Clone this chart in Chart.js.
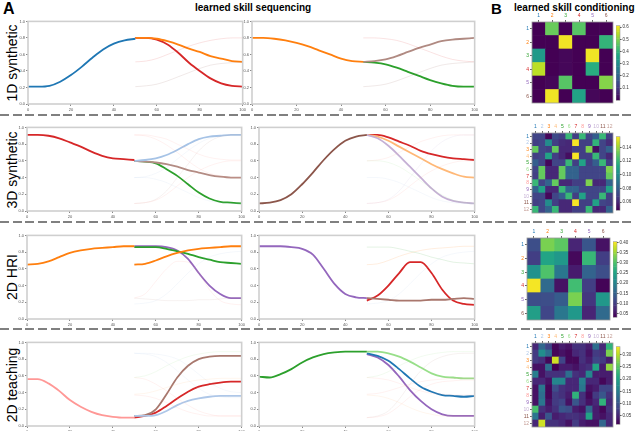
<!DOCTYPE html>
<html><head><meta charset="utf-8">
<script src="https://cdn.jsdelivr.net/npm/chart.js@4.4.0/dist/chart.umd.min.js"></script>
<style>
body{margin:0;width:640px;height:431px;background:#fff;position:relative;overflow:hidden;font-family:"Liberation Sans",Arial,sans-serif;}
canvas{position:absolute;}
.t{position:absolute;white-space:nowrap;color:#000;}
.rot{position:absolute;white-space:nowrap;transform:translate(-50%,-50%) rotate(-90deg);font-size:14px;}
.dash{position:absolute;left:0;width:634px;height:2px;background:repeating-linear-gradient(to right,#808080 0 9px,transparent 9px 12.7px);}
</style></head><body>
<div class="t" style="left:3px;top:0px;font-size:16px;font-weight:bold;">A</div>
<div class="t" style="left:195px;top:2px;font-size:10px;font-weight:bold;">learned skill sequencing</div>
<div class="t" style="left:491px;top:0px;font-size:15px;font-weight:bold;">B</div>
<div class="t" style="left:514px;top:2px;font-size:10px;font-weight:bold;">learned skill conditioning</div>
<div class="rot" style="left:12px;top:63px;">1D synthetic</div>
<div class="rot" style="left:12px;top:170px;">3D synthetic</div>
<div class="rot" style="left:12px;top:277px;">2D HRI</div>
<div class="rot" style="left:12px;top:385px;">2D teaching</div>
<div class="dash" style="top:114px"></div>
<div class="dash" style="top:221px"></div>
<div class="dash" style="top:328px"></div>
<script>
// ---------------- DATA ----------------
const X_A = [0,5,10,15,20,25,30,35,40,45,50];
const X_B = [50,55,60,65,70,75,80,85,90,95,100];
const X_TICKS = [0,20,40,60,80,100];
const Y_TICKS = [0,0.2,0.4,0.6,0.8,1.0];

// Row 1 : 1D synthetic
const r1L_blue   = [0.21,0.21,0.22,0.27,0.35,0.45,0.56,0.66,0.73,0.77,0.79];
const r1L_red    = [0.80,0.80,0.78,0.72,0.62,0.50,0.40,0.31,0.25,0.22,0.21];
const r1L_orange = [0.80,0.80,0.79,0.76,0.72,0.67,0.63,0.58,0.55,0.52,0.51];
const r1L_f1     = [0.51,0.52,0.55,0.60,0.65,0.70,0.74,0.77,0.79,0.80,0.80];
const r1L_f2     = [0.21,0.22,0.24,0.28,0.33,0.38,0.43,0.47,0.49,0.50,0.51];
const r1R_orange = [0.80,0.80,0.79,0.77,0.74,0.70,0.65,0.60,0.55,0.52,0.51];
const r1R_brown  = [0.51,0.52,0.54,0.58,0.63,0.68,0.72,0.76,0.78,0.79,0.80];
const r1R_green  = [0.51,0.50,0.48,0.44,0.39,0.34,0.29,0.25,0.22,0.21,0.21];
const r1R_f1     = [0.80,0.80,0.79,0.77,0.73,0.68,0.63,0.58,0.54,0.52,0.51];
const r1R_f2     = [0.21,0.22,0.24,0.28,0.33,0.38,0.43,0.47,0.49,0.50,0.51];

// Row 2 : 3D synthetic
const r2L_red    = [0.91,0.91,0.90,0.87,0.82,0.77,0.71,0.66,0.63,0.62,0.61];
const r2L_blue   = [0.60,0.61,0.63,0.67,0.73,0.80,0.86,0.89,0.90,0.91,0.91];
const r2L_brown  = [0.60,0.59,0.58,0.56,0.53,0.49,0.46,0.43,0.41,0.40,0.40];
const r2L_green  = [0.60,0.59,0.57,0.50,0.42,0.32,0.22,0.15,0.11,0.10,0.09];
const r2L_f1     = [0.91,0.91,0.89,0.86,0.80,0.74,0.68,0.64,0.62,0.61,0.61];
const r2L_f2     = [0.91,0.90,0.86,0.79,0.70,0.60,0.51,0.45,0.42,0.40,0.40];
const r2L_f3     = [0.40,0.40,0.38,0.34,0.28,0.22,0.16,0.12,0.10,0.09,0.09];
const r2L_f4     = [0.40,0.41,0.45,0.52,0.62,0.72,0.81,0.87,0.90,0.91,0.91];
const r2L_f5     = [0.09,0.10,0.13,0.20,0.30,0.40,0.48,0.54,0.58,0.60,0.60];
const r2L_f6     = [0.09,0.10,0.14,0.24,0.40,0.56,0.72,0.83,0.89,0.91,0.91];
const r2R_brown  = [0.09,0.10,0.13,0.20,0.32,0.46,0.61,0.74,0.84,0.89,0.91];
const r2R_red    = [0.91,0.91,0.88,0.83,0.78,0.72,0.68,0.65,0.63,0.62,0.61];
const r2R_orange = [0.91,0.89,0.84,0.77,0.70,0.63,0.56,0.50,0.45,0.41,0.40];
const r2R_purple = [0.91,0.87,0.78,0.66,0.53,0.40,0.27,0.17,0.12,0.10,0.09];
const r2R_f1     = [0.60,0.60,0.58,0.53,0.45,0.36,0.27,0.19,0.13,0.10,0.09];
const r2R_f2     = [0.40,0.40,0.38,0.34,0.28,0.22,0.16,0.12,0.10,0.09,0.09];
const r2R_f3     = [0.09,0.10,0.14,0.24,0.40,0.56,0.72,0.83,0.89,0.91,0.91];
const r2R_f4     = [0.60,0.61,0.64,0.70,0.77,0.83,0.87,0.90,0.91,0.91,0.91];
const r2R_f5     = [0.09,0.10,0.13,0.20,0.30,0.40,0.48,0.54,0.58,0.60,0.60];

// Row 3 : 2D HRI
const r3L_orange = [0.65,0.66,0.69,0.74,0.79,0.82,0.84,0.85,0.86,0.87,0.87];
const r3L_orange2= [0.65,0.66,0.70,0.75,0.79,0.82,0.84,0.85,0.86,0.87,0.87];
const r3L_green  = [0.86,0.86,0.86,0.84,0.81,0.78,0.74,0.71,0.68,0.67,0.66];
const r3L_purple = [0.87,0.87,0.87,0.86,0.82,0.72,0.55,0.40,0.30,0.25,0.25];
const r3L_f1     = [0.25,0.30,0.45,0.60,0.69,0.68,0.55,0.35,0.22,0.18,0.17];
const r3L_f2     = [0.18,0.19,0.22,0.30,0.42,0.55,0.66,0.74,0.78,0.80,0.81];
const r3L_f3     = [0.25,0.24,0.23,0.22,0.22,0.22,0.23,0.23,0.24,0.25,0.25];
const r3R_purple = [0.87,0.87,0.87,0.86,0.84,0.77,0.60,0.42,0.30,0.26,0.25];
const r3R_red    = [0.22,0.28,0.40,0.55,0.68,0.68,0.55,0.35,0.22,0.18,0.17];
const r3R_brown  = [0.25,0.24,0.23,0.22,0.22,0.22,0.23,0.23,0.24,0.25,0.24];
const r3R_f1     = [0.86,0.86,0.86,0.84,0.81,0.78,0.74,0.71,0.68,0.67,0.66];
const r3R_f2     = [0.65,0.66,0.70,0.75,0.79,0.82,0.84,0.85,0.86,0.87,0.87];
const r3R_f3     = [0.18,0.19,0.22,0.30,0.42,0.55,0.66,0.74,0.78,0.80,0.81];

// Row 4 : 2D teaching
const r4L_pink   = [0.56,0.56,0.51,0.42,0.31,0.23,0.17,0.13,0.11,0.10,0.10];
const r4L_brown  = [0.12,0.13,0.20,0.38,0.58,0.72,0.80,0.83,0.84,0.84,0.84];
const r4L_red    = [0.10,0.12,0.16,0.24,0.33,0.41,0.47,0.50,0.52,0.53,0.53];
const r4L_blue   = [0.12,0.12,0.13,0.18,0.25,0.30,0.33,0.35,0.36,0.36,0.36];
const r4L_f1     = [0.87,0.86,0.83,0.76,0.66,0.55,0.45,0.38,0.35,0.34,0.34];
const r4L_f2     = [0.58,0.60,0.65,0.72,0.78,0.83,0.86,0.88,0.89,0.89,0.89];
const r4L_f3     = [0.38,0.39,0.42,0.46,0.50,0.53,0.55,0.56,0.57,0.57,0.57];
const r4L_f4     = [0.37,0.36,0.33,0.28,0.22,0.17,0.14,0.12,0.12,0.12,0.12];
const r4L_f5     = [0.58,0.56,0.50,0.42,0.33,0.25,0.18,0.14,0.12,0.12,0.12];
const r4L_f6     = [0.87,0.87,0.86,0.84,0.80,0.72,0.62,0.52,0.45,0.41,0.40];
const r4R_green  = [0.59,0.58,0.62,0.68,0.76,0.82,0.86,0.88,0.89,0.89,0.89];
const r4R_lgreen = [0.89,0.89,0.87,0.83,0.77,0.70,0.63,0.59,0.58,0.57,0.57];
const r4R_blue   = [0.87,0.84,0.78,0.68,0.57,0.47,0.41,0.37,0.36,0.35,0.36];
const r4R_purple = [0.86,0.82,0.73,0.59,0.43,0.30,0.20,0.14,0.12,0.12,0.12];
const r4R_f1     = [0.58,0.60,0.65,0.72,0.78,0.83,0.86,0.88,0.89,0.89,0.89];
const r4R_f2     = [0.38,0.39,0.42,0.46,0.50,0.53,0.55,0.56,0.57,0.57,0.57];
const r4R_f3     = [0.10,0.11,0.15,0.24,0.35,0.44,0.50,0.53,0.54,0.55,0.55];
const r4R_f4     = [0.58,0.57,0.55,0.51,0.46,0.42,0.39,0.38,0.37,0.37,0.37];
const r4R_f5     = [0.37,0.36,0.33,0.28,0.22,0.17,0.14,0.12,0.12,0.12,0.12];
const r4R_f6     = [0.10,0.12,0.18,0.32,0.50,0.66,0.77,0.83,0.86,0.87,0.87];

// Heatmaps (rows top->bottom, columns left->right)
const LABELS6  = ['1','2','3','4','5','6'];
const LABELS12 = ['1','2','3','4','5','6','7','8','9','10','11','12'];
const H1 = [
 [0.00,0.47,0.00,0.45,0.00,0.00],
 [0.00,0.00,0.60,0.00,0.00,0.40],
 [0.33,0.00,0.01,0.00,0.60,0.00],
 [0.55,0.00,0.01,0.00,0.38,0.00],
 [0.00,0.01,0.45,0.00,0.00,0.50],
 [0.00,0.60,0.00,0.35,0.01,0.00]];
const H1_TICKS = [0.1,0.2,0.3,0.4,0.5,0.6];
const H1_RANGE = [0.0,0.612];
const H2 = [
 [0.070,0.070,0.050,0.072,0.068,0.120,0.068,0.120,0.070,0.080,0.120,0.068],
 [0.068,0.070,0.100,0.068,0.062,0.060,0.155,0.068,0.068,0.118,0.070,0.062],
 [0.130,0.070,0.068,0.130,0.060,0.060,0.068,0.068,0.135,0.052,0.070,0.082],
 [0.068,0.070,0.110,0.068,0.060,0.052,0.155,0.068,0.068,0.120,0.070,0.060],
 [0.080,0.070,0.050,0.070,0.070,0.120,0.068,0.110,0.068,0.080,0.120,0.068],
 [0.070,0.130,0.060,0.060,0.130,0.082,0.082,0.070,0.070,0.070,0.070,0.135],
 [0.068,0.130,0.060,0.060,0.130,0.082,0.082,0.070,0.070,0.070,0.070,0.130],
 [0.120,0.070,0.082,0.130,0.060,0.060,0.068,0.068,0.135,0.060,0.060,0.082],
 [0.082,0.110,0.060,0.060,0.120,0.082,0.082,0.070,0.070,0.070,0.070,0.110],
 [0.070,0.070,0.050,0.070,0.080,0.120,0.068,0.110,0.070,0.070,0.120,0.068],
 [0.068,0.070,0.100,0.068,0.060,0.060,0.155,0.068,0.068,0.110,0.070,0.068],
 [0.120,0.070,0.082,0.120,0.060,0.060,0.068,0.068,0.120,0.060,0.060,0.082]];
const H2_TICKS = [0.06,0.08,0.10,0.12,0.14];
const H2_RANGE = [0.048,0.156];
const H3 = [
 [0.12,0.33,0.31,0.07,0.13,0.05],
 [0.10,0.25,0.23,0.04,0.28,0.10],
 [0.22,0.30,0.18,0.06,0.15,0.12],
 [0.40,0.16,0.05,0.29,0.10,0.035],
 [0.12,0.12,0.14,0.33,0.09,0.23],
 [0.24,0.11,0.18,0.23,0.07,0.16]];
const H3_TICKS = [0.05,0.10,0.15,0.20,0.25,0.30,0.35,0.40];
const H3_RANGE = [0.032,0.405];
const H4 = [
 [0.05,0.12,0.08,0.02,0.04,0.03,0.06,0.06,0.04,0.13,0.05,0.22],
 [0.07,0.17,0.13,0.02,0.03,0.02,0.05,0.06,0.03,0.07,0.06,0.27],
 [0.07,0.06,0.02,0.31,0.08,0.02,0.02,0.06,0.04,0.08,0.07,0.04],
 [0.03,0.03,0.13,0.01,0.04,0.04,0.03,0.05,0.06,0.20,0.04,0.28],
 [0.15,0.03,0.06,0.06,0.06,0.13,0.06,0.05,0.16,0.04,0.04,0.04],
 [0.05,0.05,0.03,0.16,0.16,0.05,0.05,0.15,0.05,0.05,0.02,0.04],
 [0.03,0.14,0.02,0.09,0.06,0.05,0.05,0.14,0.03,0.04,0.08,0.08],
 [0.03,0.13,0.02,0.07,0.06,0.04,0.22,0.06,0.02,0.07,0.10,0.06],
 [0.03,0.14,0.03,0.07,0.08,0.03,0.10,0.06,0.03,0.05,0.22,0.05],
 [0.24,0.06,0.04,0.06,0.10,0.09,0.04,0.03,0.12,0.04,0.02,0.06],
 [0.14,0.04,0.10,0.04,0.05,0.06,0.06,0.05,0.20,0.04,0.03,0.05],
 [0.05,0.31,0.06,0.06,0.05,0.03,0.07,0.04,0.03,0.03,0.12,0.05]];
const H4_TICKS = [0.05,0.10,0.15,0.20,0.25,0.30];
const H4_RANGE = [0.015,0.333];

// ---------------- STYLE ----------------
const TAB10 = ['#1f77b4','#ff7f0e','#2ca02c','#d62728','#9467bd','#8c564b'];
const TAB20 = ['#1f77b4','#aec7e8','#ff7f0e','#ffbb78','#2ca02c','#98df8a','#d62728','#ff9896','#9467bd','#c5b0d5','#8c564b','#c49c94'];
const VIR = ['#440154','#482475','#414487','#355f8d','#2a788e','#21918c','#22a884','#44bf70','#7ad151','#bddf26','#fde725'];
function hex(h){return [parseInt(h.slice(1,3),16),parseInt(h.slice(3,5),16),parseInt(h.slice(5,7),16)];}
function viridis(t){t=Math.max(0,Math.min(1,t));const f=t*10,i=Math.min(9,Math.floor(f)),u=f-i;const a=hex(VIR[i]),b=hex(VIR[i+1]);return 'rgb('+a.map((v,k)=>Math.round(v+(b[k]-v)*u)).join(',')+')';}
function fa(h,a){const c=hex(h);return 'rgba('+c.join(',')+','+a+')';}

Chart.defaults.font.family = '"Liberation Sans", Arial, sans-serif';
Chart.defaults.animation = false;

const framePlugin = {id:'frame', afterDraw(c,args,o){if(!o.color)return;const a=c.chartArea,x=c.ctx;x.save();x.strokeStyle=o.color;x.lineWidth=o.width||1;x.strokeRect(a.left,a.top,a.right-a.left,a.bottom-a.top);x.restore();}};
Chart.register(framePlugin);

function place(rect,pl,pt,pr,pb){
  const cv=document.createElement('canvas');
  const W=rect.r-rect.l+pl+pr, H=rect.b-rect.t+pt+pb;
  cv.width=W;cv.height=H;cv.style.left=(rect.l-pl)+'px';cv.style.top=(rect.t-pt)+'px';
  cv.style.width=W+'px';cv.style.height=H+'px';
  document.body.appendChild(cv);return cv;
}
function line(xs,ys,color,w){return {data:xs.map((x,i)=>({x:x,y:ys[i]})),borderColor:color,borderWidth:w,pointRadius:0,fill:false,tension:0.4,cubicInterpolationMode:'monotone'};}
function lineChart(rect,mains,faints){
  const cv=place(rect,12,3,3,10);
  const datasets=[];
  faints.forEach(f=>datasets.push(line(X_B,f[0],fa(f[1],0.13),1)));
  mains.forEach(m=>datasets.push(line(m[0],m[1],m[2],1.8)));
  new Chart(cv,{type:'line',data:{datasets},options:{
    responsive:false,devicePixelRatio:1,
    layout:{padding:{left:0,top:3,right:3,bottom:0}},
    plugins:{legend:{display:false},tooltip:{enabled:false},frame:{color:'#cfcfcf',width:1.6}},
    scales:{
      x:{type:'linear',min:0,max:100,afterFit:s=>{s.height=10;},afterBuildTicks:s=>{s.ticks=X_TICKS.map(v=>({value:v}));},
         ticks:{font:{size:4},color:'#555',padding:1,maxRotation:0,autoSkip:false},
         grid:{display:true,drawOnChartArea:false,tickLength:2,color:'#888'},border:{display:false}},
      y:{type:'linear',min:0,max:1,afterFit:s=>{s.width=12;},afterBuildTicks:s=>{s.ticks=Y_TICKS.map(v=>({value:v}));},
         ticks:{font:{size:4},color:'#555',padding:1,callback:v=>v.toFixed(1),autoSkip:false},
         grid:{display:true,drawOnChartArea:false,tickLength:2,color:'#888'},border:{display:false}}
    }}});
}
function heatmap(rect,M,labels,colors,range,cbRect,cbTicks){
  const n=M.length, cv=place(rect,8,9,1,3);
  const datasets=[];
  for(let r=n-1;r>=0;r--){
    datasets.push({data:M[r].map(()=>1),backgroundColor:M[r].map(v=>viridis((v-range[0])/(range[1]-range[0]))),
      borderWidth:0,barPercentage:1,categoryPercentage:1});
  }
  new Chart(cv,{type:'bar',data:{labels:labels,datasets},options:{
    responsive:false,devicePixelRatio:1,
    layout:{padding:{left:0,top:0,right:1,bottom:3}},
    plugins:{legend:{display:false},tooltip:{enabled:false},frame:{color:'#9a9a9a',width:0.8}},
    scales:{
      x:{stacked:true,position:'top',afterFit:s=>{s.height=9;},
         ticks:{font:{size:5},color:c=>colors[c.index],padding:1,maxRotation:0,autoSkip:false},
         grid:{display:true,drawOnChartArea:false,tickLength:2,color:'#666',offset:false},border:{display:false}},
      y:{stacked:true,min:0,max:n,afterFit:s=>{s.width=8;},
         afterBuildTicks:s=>{const t=[];for(let i=0;i<n;i++)t.push({value:i+0.5});s.ticks=t;},
         ticks:{font:{size:5},padding:1,autoSkip:false,callback:v=>labels[n-1-Math.round(v-0.5)],color:c=>colors[n-1-Math.round(c.tick.value-0.5)]},
         grid:{display:true,drawOnChartArea:false,tickLength:2,color:'#666'},border:{display:false}}
    }}});
  // colorbar
  const cc=place(cbRect,0,0,16,0);
  const N=64,cd=[];
  for(let i=0;i<N;i++){const lo=range[0]+(range[1]-range[0])*i/N,hi=range[0]+(range[1]-range[0])*(i+1)/N;
    cd.push({data:[[lo,hi]],backgroundColor:viridis((i+0.5)/N),borderWidth:0,grouped:false,barPercentage:1,categoryPercentage:1});}
  new Chart(cc,{type:'bar',data:{labels:['c'],datasets:cd},options:{
    responsive:false,devicePixelRatio:1,
    plugins:{legend:{display:false},tooltip:{enabled:false},frame:{color:'#9a9a9a',width:0.6}},
    scales:{
      x:{display:false},
      y:{position:'right',min:range[0],max:range[1],afterFit:s=>{s.width=16;},
         afterBuildTicks:s=>{s.ticks=cbTicks.map(v=>({value:v}));},
         ticks:{font:{size:4.5},color:'#333',padding:1,autoSkip:false,callback:v=>(range[1]<0.2?v.toFixed(2):(cbTicks[0]===0.05?v.toFixed(2):v.toFixed(1)))},
         grid:{display:true,drawOnChartArea:false,tickLength:1.5,color:'#444'},border:{display:false}}
    }}});
}

// ---------------- BUILD ----------------
const C = {blue:'#1f77b4',orange:'#ff7f0e',green:'#2ca02c',red:'#d62728',purple:'#9467bd',brown:'#8c564b',
  lblue:'#aec7e8',lorange:'#ffbb78',lgreen:'#98df8a',pink:'#ff9896',lpurple:'#c5b0d5',lbrown:'#c49c94'};

lineChart({l:28,r:244,t:21,b:104},
  [[X_A,r1L_blue,C.blue],[X_B,r1L_orange,C.orange],[X_B,r1L_red,C.red]],
  [[r1L_f1,'#d62728'],[r1L_f2,'#8c564b']]);
lineChart({l:252,r:476,t:21,b:104},
  [[X_A,r1R_orange,C.orange],[X_B,r1R_brown,'#b08a82'],[X_B,r1R_green,C.green]],
  [[r1R_f1,'#d62728'],[r1R_f2,'#8c564b']]);

lineChart({l:27,r:243,t:127,b:211},
  [[X_A,r2L_red,C.red],[X_B,r2L_blue,'#a6c3e6'],[X_B,r2L_brown,'#b38c84'],[X_B,r2L_green,C.green]],
  [[r2L_f1,'#ff9896'],[r2L_f2,'#ff9896'],[r2L_f3,'#aec7e8'],[r2L_f4,'#aec7e8'],[r2L_f5,'#ff9896'],[r2L_f6,'#c49c94']]);
lineChart({l:259,r:476,t:127,b:211},
  [[X_A,r2R_brown,C.brown],[X_B,r2R_purple,C.lpurple],[X_B,r2R_orange,'#ffb877'],[X_B,r2R_red,C.red]],
  [[r2R_f1,'#98df8a'],[r2R_f2,'#aec7e8'],[r2R_f3,'#c5b0d5'],[r2R_f4,'#ff9896'],[r2R_f5,'#ff9896']]);

lineChart({l:27,r:243,t:235,b:319},
  [[X_A,r3L_orange,C.orange],[X_B,r3L_orange2,C.orange],[X_B,r3L_green,C.green],[X_B,r3L_purple,C.purple]],
  [[r3L_f1,'#ff9896'],[r3L_f2,'#aec7e8'],[r3L_f3,'#c49c94']]);
lineChart({l:259,r:476,t:235,b:319},
  [[X_A,r3R_purple,C.purple],[X_B,r3R_brown,'#a9776d'],[X_B,r3R_red,C.red]],
  [[r3R_f1,'#2ca02c'],[r3R_f2,'#ff7f0e'],[r3R_f3,'#aec7e8']]);

lineChart({l:27,r:243,t:342,b:426},
  [[X_A,r4L_pink,C.pink],[X_B,r4L_blue,C.lblue],[X_B,r4L_brown,'#a8786e'],[X_B,r4L_red,C.red]],
  [[r4L_f1,'#aec7e8'],[r4L_f2,'#98df8a'],[r4L_f3,'#ffbb78'],[r4L_f4,'#ff9896'],[r4L_f5,'#ff9896'],[r4L_f6,'#aec7e8']]);
lineChart({l:259,r:476,t:342,b:426},
  [[X_A,r4R_green,C.green],[X_B,r4R_lgreen,C.lgreen],[X_B,r4R_blue,C.blue],[X_B,r4R_purple,C.purple]],
  [[r4R_f1,'#98df8a'],[r4R_f2,'#ff9896'],[r4R_f3,'#ff9896'],[r4R_f4,'#ff9896'],[r4R_f5,'#ffbb78'],[r4R_f6,'#c49c94']]);

heatmap({l:532,r:613,t:22,b:104},H1,LABELS6,TAB10,H1_RANGE,{l:616,r:620,t:22,b:104},H1_TICKS);
heatmap({l:532,r:613,t:133,b:214},H2,LABELS12,TAB20,H2_RANGE,{l:616,r:620,t:133,b:214},H2_TICKS);
heatmap({l:527,r:610,t:238,b:321},H3,LABELS6,TAB10,H3_RANGE,{l:613,r:617,t:238,b:321},H3_TICKS);
heatmap({l:532,r:613,t:343,b:428},H4,LABELS12,TAB20,H4_RANGE,{l:616,r:620,t:343,b:428},H4_TICKS);
</script>
</body></html>
